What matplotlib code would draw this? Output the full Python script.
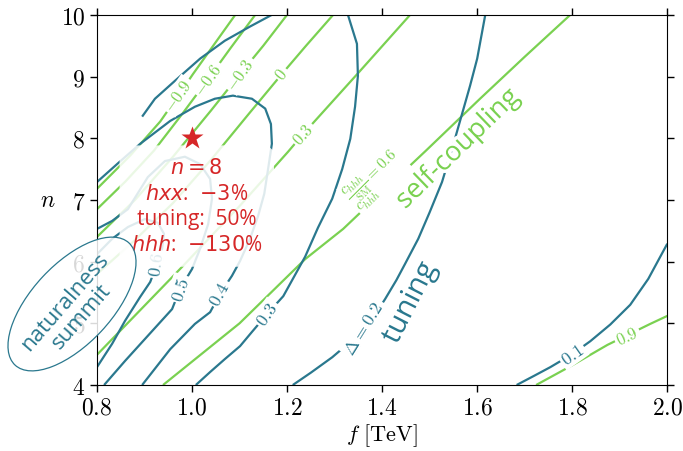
import matplotlib
matplotlib.use("Agg")
import matplotlib.pyplot as plt
import matplotlib.patheffects as pe
from matplotlib.patches import Ellipse

plt.rcParams['font.family'] = 'serif'
plt.rcParams['font.serif'] = ['cmr10']
plt.rcParams['mathtext.fontset'] = 'cm'
plt.rcParams['axes.formatter.use_mathtext'] = True

teal = '#2a788e'
green = '#7ad151'
red = '#d62728'
sans = 'Open Sans'

# self-coupling ratio c_hhh / c_hhh^SM, contour lines in the (f, n) plane
hhh_m09 = [(1.091, 10.0), (1.04, 9.45), (1.002, 9.04), (0.971, 8.69), (0.933, 8.27),
           (0.87, 7.72), (0.80, 7.18)]
hhh_m06 = [(1.133, 10.0), (1.08, 9.45), (1.034, 8.96), (0.98, 8.40), (0.92, 7.80),
           (0.86, 7.30), (0.80, 6.85)]
hhh_m03 = [(1.200, 10.0), (1.15, 9.50), (1.101, 9.04), (1.04, 8.45), (0.96, 7.70),
           (0.88, 7.00), (0.80, 6.40)]
hhh_0 = [(1.297, 10.0), (1.24, 9.50), (1.189, 9.04), (1.12, 8.40), (1.04, 7.65),
         (0.96, 6.95), (0.88, 6.35), (0.80, 5.80)]
hhh_p03 = [(1.459, 10.0), (1.35, 9.06), (1.234, 8.07), (1.202, 7.78), (1.10, 6.90),
           (0.981, 5.93), (0.80, 4.49)]
hhh_p06 = [(1.796, 10.0), (1.70, 9.32), (1.606, 8.64), (1.491, 7.79), (1.40, 7.13),
           (1.318, 6.53), (1.238, 6.04), (1.10, 5.00), (0.939, 4.0)]
hhh_p09 = [(1.724, 4.0), (1.80, 4.32), (1.874, 4.65), (1.964, 4.99), (2.0, 5.12)]
hhh_lines = [hhh_m09, hhh_m06, hhh_m03, hhh_0, hhh_p03, hhh_p06, hhh_p09]

# tuning Delta, contour lines
tun_01 = [(1.683, 4.0), (1.72, 4.15), (1.754, 4.29), (1.80, 4.50), (1.838, 4.71),
          (1.88, 4.98), (1.922, 5.30), (1.96, 5.72), (2.0, 6.29)]
tun_02 = [(1.212, 4.0), (1.25, 4.20), (1.295, 4.45), (1.33, 4.68), (1.362, 4.92),
          (1.39, 5.20), (1.406, 5.39), (1.43, 5.70), (1.448, 5.96), (1.476, 6.37),
          (1.50, 6.80), (1.526, 7.29), (1.548, 7.85), (1.568, 8.39), (1.585, 8.85),
          (1.600, 9.29), (1.617, 10.0)]
tun_03 = [(1.008, 4.0), (1.038, 4.21), (1.069, 4.42), (1.101, 4.63), (1.126, 4.86),
          (1.158, 5.15), (1.192, 5.44), (1.238, 6.08), (1.265, 6.55), (1.295, 7.02),
          (1.316, 7.50), (1.333, 7.99), (1.343, 8.51), (1.349, 9.01), (1.347, 9.53),
          (1.328, 10.0)]
tun_03b = [(1.168, 10.0), (1.122, 9.81), (1.069, 9.58), (1.017, 9.29), (0.964, 8.93),
           (0.922, 8.64), (0.895, 8.35)]
tun_04 = [(0.895, 4.0), (0.954, 4.58), (1.006, 4.99), (1.038, 5.18), (1.059, 5.48),
          (1.084, 5.77), (1.101, 6.01), (1.122, 6.37), (1.139, 6.74), (1.152, 7.10),
          (1.160, 7.50), (1.168, 7.91), (1.166, 8.23), (1.154, 8.48), (1.126, 8.64),
          (1.086, 8.69), (1.048, 8.64), (1.006, 8.51), (0.954, 8.28), (0.891, 7.91),
          (0.848, 7.62), (0.800, 7.29)]
tun_05 = [(0.815, 4.0), (0.859, 4.39), (0.912, 4.84), (0.958, 5.23), (0.975, 5.56),
          (1.000, 5.88), (1.017, 6.21), (1.034, 6.61), (1.042, 7.02), (1.038, 7.34),
          (1.017, 7.58), (0.985, 7.70), (0.943, 7.63), (0.907, 7.37), (0.865, 6.85),
          (0.832, 6.66), (0.800, 6.53)]
tun_06 = [(0.800, 4.29), (0.832, 4.67), (0.859, 5.04), (0.891, 5.43), (0.912, 5.67),
          (0.926, 5.96), (0.937, 6.21), (0.941, 6.45), (0.928, 6.63), (0.901, 6.69),
          (0.865, 6.56), (0.832, 6.37), (0.800, 6.12)]
tun_lines = [tun_01, tun_02, tun_03, tun_03b, tun_04, tun_05, tun_06]

# inline contour labels: text, position (f, n), angle on screen
hhh_labels = [('$-0.9$', 0.971, 8.69, 55), ('$-0.6$', 1.034, 8.96, 55),
              ('$-0.3$', 1.101, 9.04, 55), ('$0$', 1.189, 9.04, 52),
              ('$0.3$', 1.234, 8.07, 48), ('$0.9$', 1.916, 4.79, 25)]
tun_labels = [('$0.1$', 1.80, 4.50, 35), (r'$\Delta = 0.2$', 1.362, 4.92, 58),
              ('$0.3$', 1.158, 5.15, 55), ('$0.4$', 1.059, 5.48, 62),
              ('$0.5$', 0.975, 5.56, 72), ('$0.6$', 0.926, 5.96, 82)]

# benchmark point
bench_f, bench_n = 1.0, 8.0

fig = plt.figure(figsize=(6.83, 4.52), dpi=100)
ax = fig.add_axes([0.142, 0.146, 0.835, 0.819])

for pts in hhh_lines:
    fs, ns = zip(*pts)
    ax.plot(fs, ns, color=green, lw=1.6, zorder=2, solid_capstyle='butt')
for pts in tun_lines:
    fs, ns = zip(*pts)
    ax.plot(fs, ns, color=teal, lw=1.6, zorder=2, solid_capstyle='butt',
            solid_joinstyle='round')

gap = dict(boxstyle='square,pad=0.12', fc='white', ec='none')
for txt, x, y, rot in hhh_labels:
    ax.text(x, y, txt, color=green, fontsize=12, rotation=rot, ha='center', va='center',
            rotation_mode='anchor', bbox=gap, zorder=3)
for txt, x, y, rot in tun_labels:
    ax.text(x, y, txt, color=teal, fontsize=13, rotation=rot, ha='center', va='center',
            rotation_mode='anchor', bbox=gap, zorder=3)
ax.text(1.385, 7.34, r'$\dfrac{c_{hhh}}{c_{hhh}^{\mathrm{SM}}} = 0.6$', color=green,
        fontsize=11, rotation=45, ha='center', va='center', rotation_mode='anchor',
        bbox=gap, zorder=3)

halo = [pe.withStroke(linewidth=5, foreground='white')]
ax.text(1.56, 7.83, 'self-coupling', family=sans, color=green, fontsize=19.5,
        rotation=44, ha='center', va='center', rotation_mode='anchor',
        path_effects=halo, zorder=4)
ax.text(1.458, 5.33, 'tuning', family=sans, color=teal, fontsize=21,
        rotation=63, ha='center', va='center', rotation_mode='anchor',
        path_effects=halo, zorder=4)

ax.text(1.01, 6.90, '$n = 8$\n$hxx$:  $-3$%\ntuning:  50%\n$hhh$:  $-130$%',
        family=sans, math_fontfamily='dejavusans', color=red, fontsize=15,
        ha='center', va='center', linespacing=1.3, zorder=5,
        bbox=dict(boxstyle='round,pad=0.55', fc='white', ec='none', alpha=0.85))
ax.plot([bench_f], [bench_n], marker='*', color=red, ms=17, mec='none', zorder=6)

ax.set_xlim(0.8, 2.0)
ax.set_ylim(4, 10)
ax.set_xticks([0.8, 1.0, 1.2, 1.4, 1.6, 1.8, 2.0])
ax.set_yticks([4, 5, 6, 7, 8, 9, 10])
ax.tick_params(direction='out', length=5, width=1, labelsize=17,
               top=True, right=True)
ax.set_xlabel(r'$f\ [\mathrm{TeV}]$', fontsize=16, labelpad=2)
ax.set_ylabel('$n$', fontsize=17, rotation=0, labelpad=9, va='center')

summit = Ellipse((0.72, 1.47), 1.67, 0.80, angle=47, transform=fig.dpi_scale_trans,
                 fc=(1, 1, 1, 0.85), ec=teal, lw=0.9, zorder=3)
fig.add_artist(summit)
fig.text(0.73 / 6.83, 1.43 / 4.52, 'naturalness\nsummit', family=sans, color=teal,
         fontsize=16, rotation=49, ha='center', va='center', rotation_mode='anchor',
         linespacing=1.05, zorder=4)

fig.savefig('out.png', dpi=100)
